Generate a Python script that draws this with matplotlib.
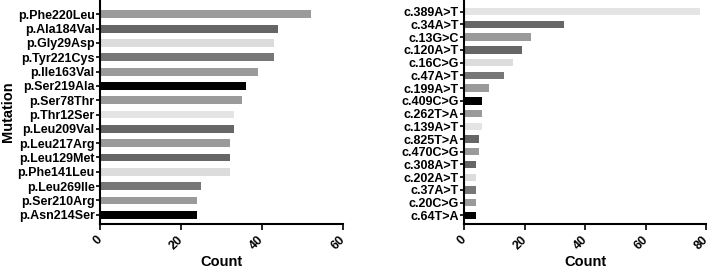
import matplotlib.pyplot as plt

plt.rcParams['font.family'] = ['Liberation Sans', 'DejaVu Sans']
plt.rcParams['font.weight'] = 'bold'

# protein changes (top to bottom)
protein = ['p.Phe220Leu', 'p.Ala184Val', 'p.Gly29Asp', 'p.Tyr221Cys', 'p.Ile163Val',
           'p.Ser219Ala', 'p.Ser78Thr', 'p.Thr12Ser', 'p.Leu209Val', 'p.Leu217Arg',
           'p.Leu129Met', 'p.Phe141Leu', 'p.Leu269Ile', 'p.Ser210Arg', 'p.Asn214Ser']
protein_count = [52, 44, 43, 43, 39, 36, 35, 33, 33, 32, 32, 32, 25, 24, 24]

# nucleotide changes (top to bottom)
cdna = ['c.389A>T', 'c.34A>T', 'c.13G>C', 'c.120A>T', 'c.16C>G', 'c.47A>T',
        'c.199A>T', 'c.409C>G', 'c.262T>A', 'c.139A>T', 'c.825T>A', 'c.470C>G',
        'c.308A>T', 'c.202A>T', 'c.37A>T', 'c.20C>G', 'c.64T>A']
cdna_count = [78, 33, 22, 19, 16, 13, 8, 6, 6, 6, 5, 5, 4, 4, 4, 4, 4]

# grey cycle, counted from the bottom bar upwards
greys = ['#000000', '#9a9a9a', '#777777', '#dcdcdc', '#666666',
         '#9a9a9a', '#666666', '#e4e4e4', '#9a9a9a']

fig = plt.figure(figsize=(7.1, 2.69), dpi=100)
ax1 = fig.add_axes([0.141, 0.167, 0.342, 0.833])
ax2 = fig.add_axes([0.654, 0.167, 0.341, 0.833])


def draw(ax, labels, counts, xmax, height, top_pad, bot_pad):
    n = len(labels)
    cols = [greys[(n - 1 - i) % len(greys)] for i in range(n)]
    ax.barh(range(n), counts, height=height, color=cols)
    ax.set_yticks(range(n))
    ax.set_yticklabels(labels, fontsize=9, fontweight='bold')
    ax.set_ylim(n - 1 + bot_pad, -top_pad)
    ax.set_xlim(0, xmax)
    ax.set_xticks(range(0, xmax + 1, 20))
    ax.set_xticklabels([str(v) for v in range(0, xmax + 1, 20)], rotation=45,
                       ha='right', va='center', rotation_mode='anchor',
                       fontsize=9, fontweight='bold')
    for s in ['top', 'right']:
        ax.spines[s].set_visible(False)
    for s in ['left', 'bottom']:
        ax.spines[s].set_linewidth(1.5)
    ax.tick_params(axis='y', length=3, width=1.2, pad=1)
    ax.tick_params(axis='x', length=4, width=1.2, pad=6)
    ax.set_xlabel('Count', fontsize=10.5, fontweight='bold', labelpad=2)


draw(ax1, protein, protein_count, 60, 0.55, 1.0, 0.65)
draw(ax2, cdna, cdna_count, 80, 0.58, 0.92, 0.68)
ax1.set_ylabel('Mutation', fontsize=10.5, fontweight='bold', labelpad=2)

plt.savefig('out.png', dpi=100)
